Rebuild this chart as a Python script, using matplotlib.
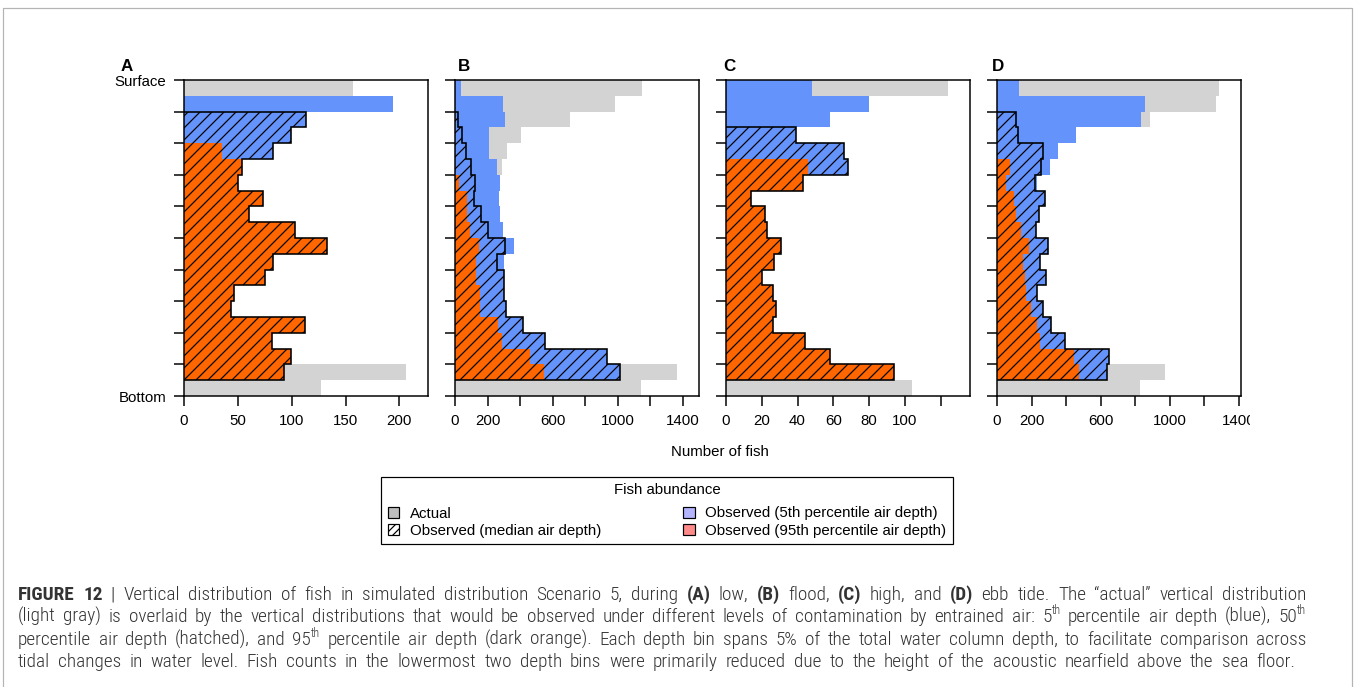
"""
Vertical distribution of fish (scenario 5) for four tidal stages,
actual counts vs counts observed under three levels of entrained air.
"""

import matplotlib
matplotlib.use('Agg')
import matplotlib.pyplot as plt
import matplotlib.transforms as mtransforms
from matplotlib.patches import Patch
from matplotlib.lines import Line2D
from matplotlib import font_manager
import numpy as np

# fish counts per 5% depth bin, surface bin first, bottom bin last
actual_A = [157, 194, 113, 99, 83, 54, 50, 73, 60, 103, 133, 83, 75, 46, 44, 112, 82, 99, 206, 127]
p5_A     = [0, 194, 113, 99, 83, 54, 50, 73, 60, 103, 133, 83, 75, 46, 44, 112, 82, 99, 93, 0]
med_A    = [0, 0, 113, 99, 83, 54, 50, 73, 60, 103, 133, 83, 75, 46, 44, 112, 82, 99, 93, 0]
p95_A    = [0, 0, 0, 0, 35, 54, 50, 73, 60, 103, 133, 83, 75, 46, 44, 112, 82, 99, 93, 0]

actual_B = [1149, 984, 710, 408, 319, 288, 278, 268, 278, 294, 364, 299, 299, 303, 315, 418, 556, 933, 1365, 1143]
p5_B     = [37, 294, 309, 212, 212, 261, 278, 268, 278, 294, 364, 299, 299, 303, 315, 418, 556, 933, 1013, 0]
med_B    = [0, 0, 21, 45, 70, 100, 120, 115, 160, 202, 309, 257, 299, 303, 315, 418, 556, 933, 1013, 0]
p95_B    = [0, 0, 0, 0, 0, 0, 27, 72, 72, 95, 146, 130, 130, 152, 154, 263, 292, 463, 550, 0]

actual_C = [124, 80, 58, 39, 66, 68, 43, 14, 22, 23, 31, 27, 20, 26, 28, 26, 44, 58, 94, 104]
p5_C     = [48, 80, 58, 39, 66, 68, 43, 14, 22, 23, 31, 27, 20, 26, 28, 26, 44, 58, 94, 0]
med_C    = [0, 0, 0, 39, 66, 68, 43, 14, 22, 23, 31, 27, 20, 26, 28, 26, 44, 58, 94, 0]
p95_C    = [0, 0, 0, 0, 0, 46, 43, 14, 22, 23, 31, 27, 20, 26, 28, 26, 44, 58, 94, 0]

actual_D = [1283, 1264, 887, 459, 353, 309, 232, 280, 243, 228, 294, 249, 284, 232, 268, 314, 393, 648, 974, 829]
p5_D     = [129, 857, 832, 459, 353, 309, 232, 280, 243, 228, 294, 249, 284, 232, 268, 314, 393, 648, 635, 0]
med_D    = [0, 0, 112, 120, 264, 253, 220, 280, 243, 228, 294, 249, 284, 232, 268, 314, 393, 648, 635, 0]
p95_D    = [0, 0, 0, 0, 0, 75, 52, 96, 111, 137, 183, 150, 160, 170, 198, 230, 251, 444, 473, 0]

panel_names = ['A', 'B', 'C', 'D']
xticks_A = [0, 50, 100, 150, 200]
xlabels_A = ['0', '50', '100', '150', '200']
xticks_B = [0, 200, 400, 600, 800, 1000, 1200, 1400]
xlabels_B = ['0', '200', '', '600', '', '1000', '', '1400']
xticks_C = [0, 20, 40, 60, 80, 100, 120]
xlabels_C = ['0', '20', '40', '60', '80', '100', '']
xticks_D = xticks_B
xlabels_D = xlabels_B

legend_labels = ['Actual', 'Observed (median air depth)',
                 'Observed (5th percentile air depth)', 'Observed (95th percentile air depth)']

caption = [
    '**FIGURE** **12** | Vertical distribution of fish in simulated distribution Scenario 5, during '
    '**(A)** low, **(B)** flood, **(C)** high, and **(D)** ebb tide. The \u201cactual\u201d vertical distribution',
    '(light gray) is overlaid by the vertical distributions that would be observed under different '
    'levels of contamination by entrained air: 5^th percentile air depth (blue), 50^th',
    'percentile air depth (hatched), and 95^th percentile air depth (dark orange). Each depth bin spans '
    '5% of the total water column depth, to facilitate comparison across',
    'tidal changes in water level. Fish counts in the lowermost two depth bins were primarily reduced '
    'due to the height of the acoustic nearfield above the sea floor.',
]

c_gray = '#d3d3d3'
c_blue = '#6494fb'
c_red = '#ff6600'

plt.rcParams['font.family'] = ['Liberation Sans', 'DejaVu Sans']
plt.rcParams['hatch.linewidth'] = 1.2

W, H, DPI = 1355, 687, 72
fig = plt.figure(figsize=(W / DPI, H / DPI), dpi=DPI)
# pixel coordinates, origin top-left
px = mtransforms.Affine2D().scale(1 / W, -1 / H).translate(0, 1) + fig.transFigure

data = {'A': (actual_A, p5_A, med_A, p95_A, xticks_A, xlabels_A),
        'B': (actual_B, p5_B, med_B, p95_B, xticks_B, xlabels_B),
        'C': (actual_C, p5_C, med_C, p95_C, xticks_C, xlabels_C),
        'D': (actual_D, p5_D, med_D, p95_D, xticks_D, xlabels_D)}
x_left = {'A': 184, 'B': 455, 'C': 726, 'D': 997}
letter_x = {'A': 121, 'B': 458, 'C': 723, 'D': 992}
ax_w = 244
y_top, y_bot = 80, 396
fs = 15

axes = {}
for name in panel_names:
    actual, p5, med, p95, xt, xl = data[name]
    x0 = x_left[name]
    ax = fig.add_axes([x0 / W, 1 - y_bot / H, ax_w / W, (y_bot - y_top) / H])
    axes[name] = ax
    nb = len(actual)
    yc = np.arange(nb) + 0.5

    ax.barh(yc, actual, height=1, color=c_gray, linewidth=0)
    ax.barh(yc, p5, height=1, color=c_blue, linewidth=0)
    ax.barh(yc, p95, height=1, color=c_red, linewidth=0)
    ax.barh(yc, med, height=1, fill=False, hatch='//', edgecolor='k', linewidth=0)

    # stepped outline around the median-air-depth bars
    med = np.asarray(med)
    idx = np.nonzero(med)[0]
    xs = [0]
    ys = [idx[0]]
    for i in idx:
        xs += [med[i], med[i]]
        ys += [i, i + 1]
    xs.append(0)
    ys.append(idx[-1] + 1)
    ax.plot(xs, ys, color='k', lw=1.6, solid_joinstyle='miter')

    ax.set_ylim(nb, 0)
    ax.set_xlim(0, 1.1 * max(actual))
    ax.set_yticks(np.arange(0, nb + 1, 2))
    if name == 'A':
        ax.set_yticklabels(['Surface'] + [''] * 9 + ['Bottom'])
    else:
        ax.set_yticklabels([])
    ax.set_xticks(xt)
    ax.set_xticklabels(xl)
    ax.tick_params(length=10, width=1.5, labelsize=fs, pad=8, colors='k')
    for s in ax.spines.values():
        s.set_linewidth(1.5)

    fig.text(letter_x[name], 71, name, transform=px, fontsize=17, fontweight='bold',
             ha='left', va='baseline')

# right edge of the last panel's labels is cut at the figure crop
clip = mtransforms.Bbox.from_extents(0, 0, 1250, H)
for tk in axes['D'].xaxis.get_major_ticks():
    tk.label1.set_clip_on(True)
    tk.label1.set_clip_box(clip)

fig.text(720, 452, 'Number of fish', transform=px, fontsize=fs, ha='center', va='center')

handles = [Patch(facecolor='#bebebe', edgecolor='k', lw=1.2, label=legend_labels[0]),
           Patch(facecolor='white', edgecolor='k', lw=1.2, hatch='///', label=legend_labels[1]),
           Patch(facecolor='#b4b4ff', edgecolor='k', lw=1.2, label=legend_labels[2]),
           Patch(facecolor='#ff8a8a', edgecolor='k', lw=1.2, label=legend_labels[3])]
leg = fig.legend(handles=handles, ncol=2, title='Fish abundance', loc='center',
                 bbox_to_anchor=(667 / W, 1 - 510.5 / H), fontsize=fs, title_fontsize=fs,
                 frameon=True, fancybox=False, edgecolor='k', framealpha=1,
                 handlelength=0.75, handleheight=0.7, handletextpad=0.7,
                 columnspacing=5.5, labelspacing=0.2, borderpad=0.45)
leg.get_frame().set_linewidth(1.2)
leg._legend_box.sep = 9  # extra room under the legend title

# outer frame
fig.add_artist(Line2D([3, 3, 1352, 1352], [H, 8, 8, H], transform=px,
                      color='#b4b4b4', lw=1.2))

# caption, justified word by word
names = {f.name for f in font_manager.fontManager.ttflist}
cap_family = 'Liberation Sans'
for fam in ['Roboto Condensed', 'Liberation Sans Narrow', 'Open Sans Condensed']:
    if fam in names:
        cap_family = fam
        break
cap_fs = 16
cap_col = '#333333'
cap_x0 = 18
cap_x1 = [1306, 1306, 1306, 1295]
cap_y = [600, 622, 645, 667]
renderer = fig.canvas.get_renderer()


def make_word(word, size):
    # list of (text artist, style) pieces for one word
    if word.startswith('**') and word.endswith('**'):
        parts = [(word[2:-2], 'bold')]
    elif '^' in word:
        base, sup = word.split('^')
        parts = [(base, 'normal'), (sup, 'sup')]
    else:
        parts = [(word, 'normal')]
    arts = []
    for txt, sty in parts:
        kw = dict(transform=px, ha='left', va='baseline', color=cap_col, family=cap_family)
        if sty == 'bold':
            t = fig.text(0, 0, txt, fontsize=size, fontweight='bold', **kw)
        elif sty == 'sup':
            t = fig.text(0, 0, txt, fontsize=size * 0.62, fontweight='light', **kw)
        else:
            t = fig.text(0, 0, txt, fontsize=size, fontweight='light', **kw)
        arts.append((t, sty))
    return arts


def width(t):
    return t.get_window_extent(renderer).width


line_words = [[make_word(w, cap_fs) for w in line.split(' ')] for line in caption]
natural = max(sum(width(t) for wd in lw for t, _ in wd) + 0.25 * cap_fs * (len(lw) - 1)
              for lw in line_words)
# size the caption so the widest line nearly fills the text width
scale = 0.95 * (cap_x1[0] - cap_x0) / natural
for lw in line_words:
    for wd in lw:
        for t, sty in wd:
            t.set_fontsize(t.get_fontsize() * scale)
cap_fs *= scale

for k, lw in enumerate(line_words):
    ws = [sum(width(t) for t, _ in wd) for wd in lw]
    gap = (cap_x1[k] - cap_x0 - sum(ws)) / (len(lw) - 1)
    x = cap_x0
    for wd, w in zip(lw, ws):
        xx = x
        for t, sty in wd:
            dy = -0.42 * cap_fs if sty == 'sup' else 0
            t.set_position((xx, cap_y[k] + dy))
            xx += width(t)
        x += w + gap

fig.savefig('out.png', dpi=DPI)
